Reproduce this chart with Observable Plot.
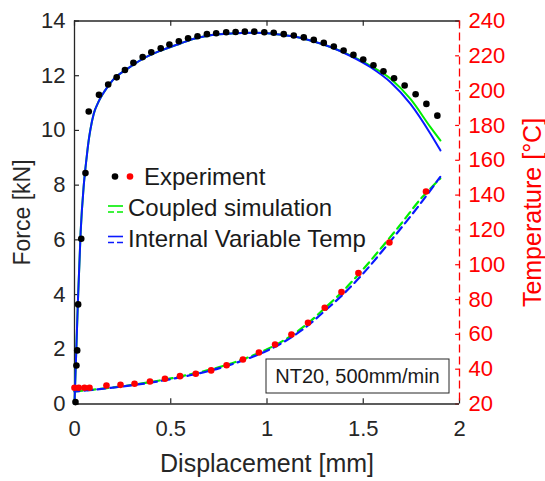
<!DOCTYPE html>
<html><head><meta charset="utf-8">
<script src="https://cdn.jsdelivr.net/npm/d3@7"></script>
<script src="https://cdn.jsdelivr.net/npm/@observablehq/plot@0.6"></script>
<style>body{margin:0;background:#fff}#chart{position:absolute;left:0;top:0}</style>
</head><body><div id="chart"></div>
<script>
// ---- data ----
const xTicks = [0, 0.5, 1, 1.5, 2];
const forceTicks = [0, 2, 4, 6, 8, 10, 12, 14];
const tempTicks = [20, 40, 60, 80, 100, 120, 140, 160, 180, 200, 220, 240];

const expForceDisp = [0.005,0.01,0.014,0.019,0.035,0.057,0.074,0.127,0.175,0.219,0.262,0.306,0.354,0.399,0.448,0.493,0.542,0.59,0.639,0.688,0.736,0.788,0.837,0.885,0.934,0.986,1.035,1.087,1.139,1.191,1.243,1.295,1.347,1.398,1.449,1.5,1.553,1.605,1.66,1.715,1.772,1.828,1.885];
const expForce = [0.07,1.41,1.96,3.64,6.04,8.44,10.69,11.30,11.68,11.94,12.21,12.47,12.68,12.86,13.00,13.14,13.26,13.37,13.44,13.52,13.55,13.59,13.60,13.61,13.61,13.59,13.57,13.52,13.47,13.40,13.31,13.20,13.07,12.92,12.76,12.59,12.38,12.16,11.91,11.64,11.32,10.97,10.54];

const expTempDisp = [0.0,0.022,0.052,0.078,0.166,0.239,0.312,0.392,0.47,0.548,0.63,0.71,0.79,0.875,0.958,1.042,1.127,1.213,1.3,1.387,1.475,1.636,1.826];
const expTemp = [29.3,29.3,29.3,29.3,30.6,31.0,31.6,32.9,34.5,36.0,37.4,39.3,42.3,45.6,49.6,54.2,59.9,66.7,75.3,84.3,95.2,112.8,142.1];

const simDisp = [0,0.017,0.032,0.047,0.058,0.066,0.075,0.083,0.1,0.125,0.153,0.2,0.274,0.35,0.448,0.55,0.621,0.7,0.795,0.934,1.05,1.142,1.23,1.33,1.434,1.538,1.642,1.745,1.849,1.901];
const forceIVT = [0,3.6,6.3,7.9,8.7,9.2,9.7,10.05,10.61,11.05,11.40,11.85,12.25,12.6,12.92,13.18,13.35,13.47,13.53,13.57,13.52,13.43,13.28,13.05,12.72,12.31,11.76,10.97,9.88,9.27];
const forceCoupled = [0,3.6,6.3,7.9,8.7,9.2,9.7,10.05,10.61,11.05,11.40,11.85,12.25,12.6,12.92,13.18,13.35,13.47,13.53,13.57,13.52,13.43,13.28,13.05,12.74,12.36,11.89,11.15,10.12,9.63];

const simTempDisp = [0,0.1,0.2,0.3,0.4,0.5,0.6,0.7,0.8,0.9,1.0,1.1,1.2,1.3,1.4,1.5,1.6,1.7,1.8,1.9];
const tempIVT = [27.2,28.2,29.4,30.8,32.4,34.3,36.5,39.0,42.2,46.0,50.6,56.5,64.0,73.5,83.5,95.0,108.0,121.5,135.5,150.5];
const tempCoupled = [27.2,28.3,29.5,31.0,32.7,34.7,37.0,39.6,42.8,46.7,51.4,57.4,65.2,75.0,85.5,97.5,110.5,124.0,138.0,149.5];

const labelX = ["Displacement [mm]"];
const labelForce = ["Force [kN]"];
const labelTemp = ["Temperature [°C]"];
const legendLabels = ["Experiment", "Coupled simulation", "Internal Variable Temp"];
const noteText = "NT20, 500mm/min";

// ---- helpers ----
const tMin = 20, tMax = 240, fMax = 14;
const tToY = t => (t - tMin) * fMax / (tMax - tMin);
const yToT = y => Math.round(y * (tMax - tMin) / fMax + tMin);
const pts = (xs, ys, f = v => v) => xs.map((x, i) => ({x, y: f(ys[i])}));

const AX = "#262626";
const FONT = "Liberation Sans, Arial, sans-serif";

const chart = Plot.plot({
  width: 545, height: 481,
  marginLeft: 74, marginRight: 86, marginTop: 20.5, marginBottom: 77.5,
  style: {fontFamily: FONT, background: "white"},
  x: {domain: [0, 2], axis: null},
  y: {domain: [0, 14], axis: null},
  marks: [
    // inward ticks
    Plot.ruleY(forceTicks, {x1: 0, x2: 0.026, stroke: AX, strokeWidth: 1.2}),
    Plot.ruleX(xTicks, {y1: 0, y2: 0.19, stroke: AX, strokeWidth: 1.2}),
    Plot.ruleX(xTicks, {y1: 14, y2: 13.81, stroke: AX, strokeWidth: 1.2}),
    Plot.ruleY(tempTicks.map(tToY), {x1: 2 - 0.02, x2: 2, stroke: "red", strokeWidth: 1.2}),
    // frame
    Plot.ruleY([0, 14], {stroke: AX, strokeWidth: 1.3}),
    Plot.ruleX([0], {stroke: AX, strokeWidth: 1.3}),
    Plot.ruleX([2], {stroke: "red", strokeWidth: 1.3, strokeDasharray: "8,4"}),
    // simulation temperature (dashed)
    Plot.line(pts(simTempDisp, tempCoupled, tToY), {x: "x", y: "y", stroke: "#00ee00", strokeWidth: 2.2, strokeDasharray: "8,5", curve: "catmull-rom"}),
    Plot.line(pts(simTempDisp, tempIVT, tToY), {x: "x", y: "y", stroke: "#0a1aff", strokeWidth: 2.2, strokeDasharray: "8,5", strokeDashoffset: 3, curve: "catmull-rom"}),
    // simulation force (solid)
    Plot.line(pts(simDisp, forceCoupled), {x: "x", y: "y", stroke: "#00ee00", strokeWidth: 2, curve: "monotone-x"}),
    Plot.line(pts(simDisp, forceIVT), {x: "x", y: "y", stroke: "#0a1aff", strokeWidth: 2, curve: "monotone-x"}),
    // experiment
    Plot.dot(pts(expTempDisp, expTemp, tToY), {x: "x", y: "y", r: 3.3, fill: "#ff0000", stroke: "none"}),
    Plot.dot(pts(expForceDisp, expForce), {x: "x", y: "y", r: 3.3, fill: "black", stroke: "none"}),
    // axes
    Plot.axisX(xTicks, {tickSize: 0, tickPadding: 16, fontSize: 22, tickFormat: d => String(d), label: null, fill: AX}),
    Plot.axisY(forceTicks, {tickSize: 0, tickPadding: 9, fontSize: 22, tickFormat: d => String(d), label: null, fill: AX}),
    Plot.axisY(tempTicks.map(tToY), {anchor: "right", tickSize: 0, tickPadding: 9, fontSize: 22, tickFormat: d => String(yToT(d)), label: null, fill: "red"}),
    // axis titles
    Plot.text(labelX, {frameAnchor: "bottom", dy: 60, fontSize: 25, fill: AX, lineAnchor: "middle", textAnchor: "middle"}),
    Plot.text(labelForce, {frameAnchor: "left", dx: -52, rotate: -90, fontSize: 23, fill: AX, lineAnchor: "middle", textAnchor: "middle"}),
    Plot.text(labelTemp, {frameAnchor: "right", dx: 73, rotate: -90, fontSize: 25, fill: "red", lineAnchor: "middle", textAnchor: "middle"})
  ]
});

document.getElementById("chart").append(chart);

// ---- legend & note box ----
const svg = d3.select(chart);
const lg = svg.append("g").attr("font-family", FONT).attr("font-size", 24).attr("fill", "#1a1a1a").attr("text-anchor", "start");
lg.append("circle").attr("cx", 115).attr("cy", 176.5).attr("r", 3.3).attr("fill", "black");
lg.append("circle").attr("cx", 130).attr("cy", 176.5).attr("r", 3.3).attr("fill", "#ff0000");
lg.append("text").attr("x", 144).attr("y", 176.5).attr("dy", "0.36em").attr("text-anchor", "start").text(legendLabels[0]);
const rows = [{c: "#00ee00", y: 207.5, t: legendLabels[1]}, {c: "#0a1aff", y: 238, t: legendLabels[2]}];
rows.forEach(r => {
  lg.append("line").attr("x1", 108).attr("x2", 123).attr("y1", r.y - 1.5).attr("y2", r.y - 1.5).attr("stroke", r.c).attr("stroke-width", 1.6);
  lg.append("line").attr("x1", 108).attr("x2", 123).attr("y1", r.y + 4.5).attr("y2", r.y + 4.5).attr("stroke", r.c).attr("stroke-width", 1.6).attr("stroke-dasharray", "6,3");
  lg.append("text").attr("x", 128).attr("y", r.y).attr("dy", "0.36em").attr("text-anchor", "start").text(r.t);
});
const nb = svg.append("g").attr("font-family", FONT);
nb.append("rect").attr("x", 266).attr("y", 359).attr("width", 183).attr("height", 34).attr("fill", "white").attr("stroke", AX).attr("stroke-width", 1);
nb.append("text").attr("x", 357.5).attr("y", 376).attr("dy", "0.36em").attr("text-anchor", "middle").attr("font-size", 20).attr("fill", "#1a1a1a").text(noteText);
</script>
</body></html>
